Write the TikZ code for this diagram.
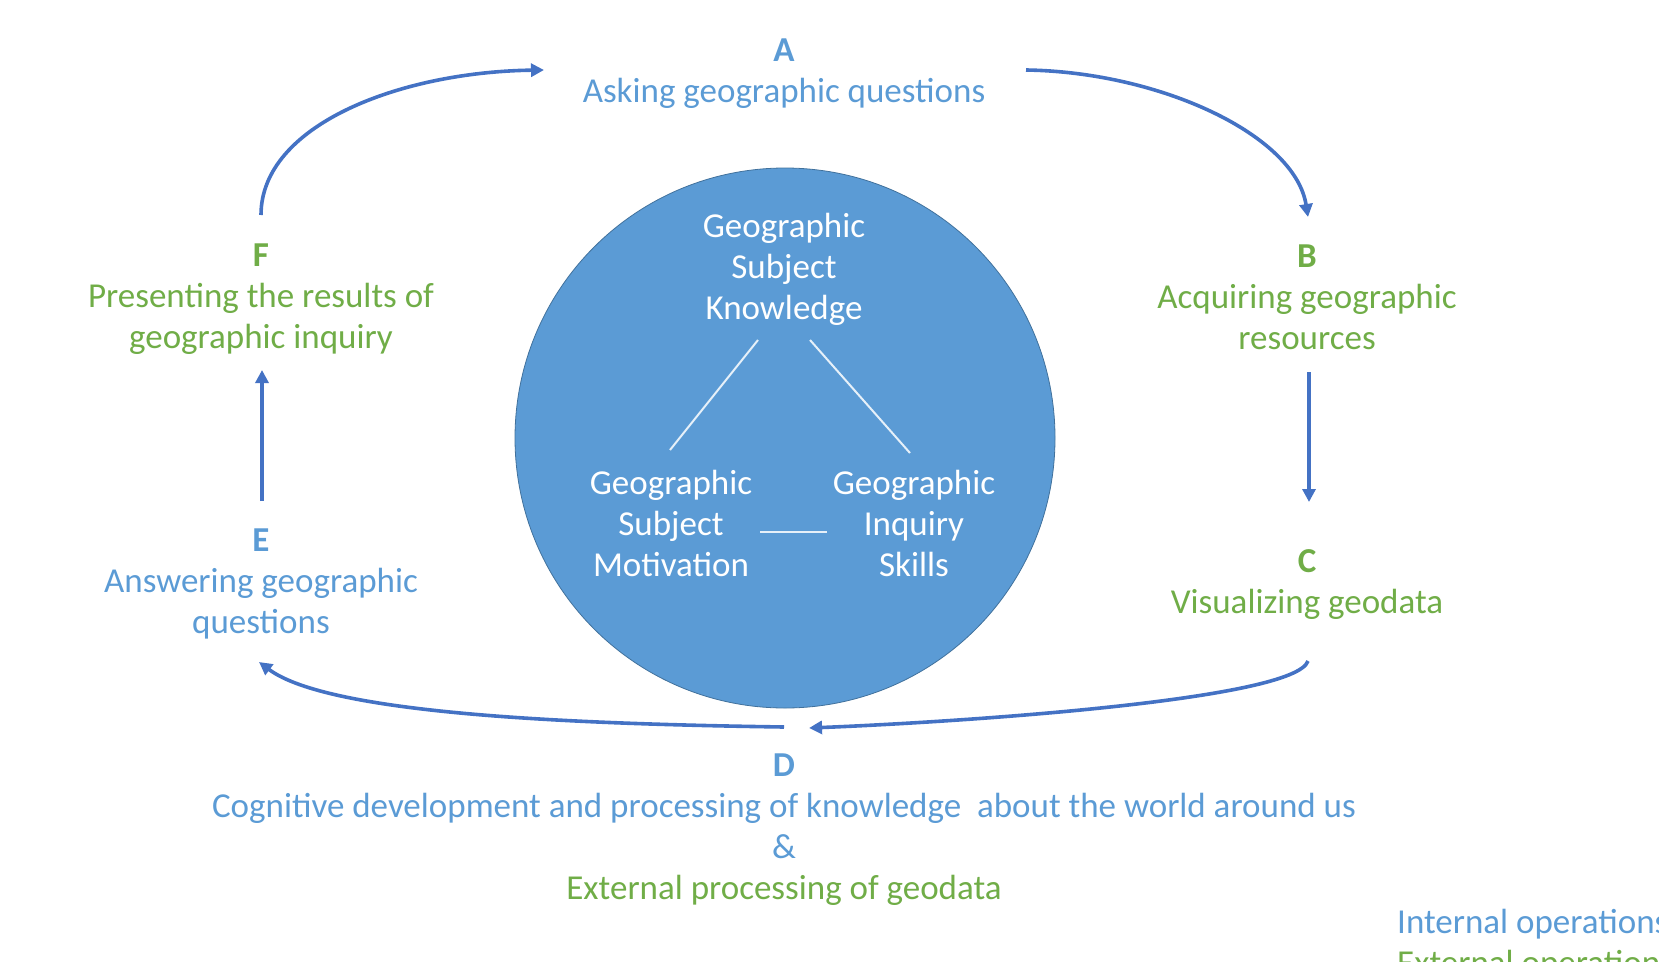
\documentclass[tikz,border=0pt]{standalone}
\usepackage{fontspec}
\setmainfont{Carlito}
\usetikzlibrary{arrows.meta}
\definecolor{accblue}{HTML}{5B9BD5}
\definecolor{accgreen}{HTML}{70AD47}
\definecolor{arrowblue}{HTML}{4472C4}
\definecolor{ringblue}{HTML}{41719C}
\begin{document}
\begin{tikzpicture}[x=1pt,y=-1pt,
  lbl/.style={align=center,font=\fontsize{35}{41}\selectfont,inner sep=0pt},
  bluetxt/.style={lbl,text=accblue},
  greentxt/.style={lbl,text=accgreen},
  intxt/.style={lbl,text=white},
  flow/.style={draw=arrowblue,line width=3.6pt,-{Triangle[length=13pt,width=13pt]}},
  link/.style={draw=white!85!accblue,line width=2pt}]
\useasboundingbox (0,0) rectangle (1659,961);
\clip (0,0) rectangle (1659,961);

% central circle
\node[circle,fill=accblue,draw=ringblue,line width=0.8pt,minimum size=540pt,inner sep=0pt] (core) at (785,438) {};

% three components inside the circle
\node[intxt] (know) at (784,269) {Geographic\\Subject\\Knowledge};
\node[intxt] (motiv) at (671,523) {Geographic\\Subject\\Motivation};
\node[intxt] (skill) at (914,523) {Geographic\\Inquiry\\Skills};
\coordinate (k1) at (758,340);
\coordinate (m1) at (670,450);
\coordinate (k2) at (810,340);
\coordinate (s1) at (910,453);
\coordinate (m2) at (760,532);
\coordinate (s2) at (827,532);
\draw[link] (k1) -- (m1);
\draw[link] (k2) -- (s1);
\draw[link] (m2) -- (s2);

% stages of the inquiry cycle
\node[greentxt] (B) at (1307,297) {\textbf{B}\\Acquiring geographic\\resources};
\node[bluetxt] (A) at (784,74) {\textbf{A}\\Asking geographic questions};
\node[greentxt] (C) at (1307,585) {\textbf{C}\\Visualizing geodata};
\node[bluetxt] (D) at (784,806) {\textbf{D}\\Cognitive development and processing of knowledge~ about the world around us\\\&};
\node[greentxt] (D2) at (784,890) {External processing of geodata};
\node[bluetxt] (E) at (261,584) {\textbf{E}\\Answering geographic\\questions};
\node[greentxt] (F) at (261,299) {\textbf{F}\\Presenting the results of\\geographic inquiry};

% arrow end points
\coordinate (fA) at (261,215);
\coordinate (tA) at (544,70);
\coordinate (fB) at (1026,70);
\coordinate (tB) at (1308,217);
\coordinate (fC) at (1309,372);
\coordinate (tC) at (1309,502);
\coordinate (fD) at (1308,661);
\coordinate (tD) at (809,728);
\coordinate (fE) at (784,727);
\coordinate (tE) at (259,662);
\coordinate (fF) at (262,501);
\coordinate (tF) at (262,370);

\draw[flow] (fA) .. controls (261,125) and (400,72) .. (tA);
\draw[flow] (fB) .. controls (1160,72) and (1295,135) .. (tB);
\draw[flow] (fC) -- (tC);
\draw[flow] (fD) .. controls (1295,700) and (960,722) .. (tD);
\draw[flow] (fE) .. controls (580,724) and (330,715) .. (tE);
\draw[flow] (fF) -- (tF);

% legend in the corner
\node[bluetxt,anchor=west] (int) at (1397,924) {Internal operations};
\node[greentxt,anchor=west] (ext) at (1397,965) {External operations};
\end{tikzpicture}
\end{document}
